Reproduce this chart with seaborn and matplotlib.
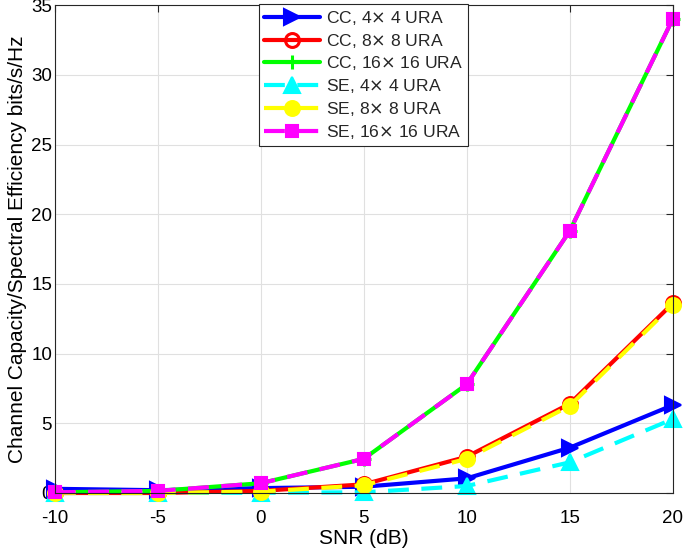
import matplotlib
matplotlib.use("Agg")
import matplotlib.pyplot as plt
import seaborn as sns
import pandas as pd

snr = [-10, -5, 0, 5, 10, 15, 20]
cc_4 = [0.3, 0.2, 0.35, 0.45, 1.05, 3.25, 6.3]
cc_8 = [0.0, 0.0, 0.15, 0.62, 2.6, 6.4, 13.6]
cc_16 = [0.05, 0.15, 0.7, 2.45, 7.8, 18.8, 34.0]
se_4 = [0.0, 0.0, 0.02, 0.05, 0.5, 2.2, 5.3]
se_8 = [0.0, 0.0, 0.1, 0.55, 2.45, 6.25, 13.5]
se_16 = [0.05, 0.15, 0.7, 2.45, 7.8, 18.8, 34.0]
labels = ["CC, 4$\\times$ 4 URA", "CC, 8$\\times$ 8 URA", "CC, 16$\\times$ 16 URA",
          "SE, 4$\\times$ 4 URA", "SE, 8$\\times$ 8 URA", "SE, 16$\\times$ 16 URA"]
xticks = [-10, -5, 0, 5, 10, 15, 20]
yticks = [0, 5, 10, 15, 20, 25, 30, 35]

series = [cc_4, cc_8, cc_16, se_4, se_8, se_16]
colors = ["#0000ff", "#ff0000", "#00ff00", "#00ffff", "#ffff00", "#ff00ff"]
markers = [">", "o", "+", "^", "o", "s"]
mfc = ["#0000ff", "none", "none", "#00ffff", "#ffff00", "#ff00ff"]
dashed = [False, False, False, True, True, True]
msizes = [12, 10, 10, 11, 10, 8]

sns.set_theme(style="whitegrid")
plt.rcParams['font.family'] = ['Liberation Sans', 'DejaVu Sans']
plt.rcParams['mathtext.fontset'] = 'dejavusans'

fig = plt.figure(figsize=(6.85, 5.53), dpi=100)
ax = fig.add_axes([0.080, 0.1085, 0.902, 0.882])

for vals, lab, c, m, f, d, ms in zip(series, labels, colors, markers, mfc, dashed, msizes):
    df = pd.DataFrame({"snr": snr, "val": vals})
    sns.lineplot(data=df, x="snr", y="val", ax=ax, color=c, marker=m, markersize=ms,
                 markerfacecolor=f, markeredgecolor=c, markeredgewidth=2.2 if m in ("o", "+") else 1.5,
                 linewidth=3, label=lab,
                 linestyle=(0, (5, 3)) if d else "-", clip_on=False)

ax.set_xlim(-10, 20)
ax.set_ylim(0, 35)
ax.set_xticks(xticks)
ax.set_yticks(yticks)
ax.set_xticklabels([str(t) for t in xticks])
ax.set_yticklabels([str(t) for t in yticks])
ax.set_facecolor("white")
ax.grid(True, color="#e0e0e0", linewidth=0.8)
for s in ax.spines.values():
    s.set_visible(True)
    s.set_color("#262626")
    s.set_linewidth(0.8)
ax.tick_params(direction="in", length=5, width=0.8, colors="#262626", labelsize=13.5,
               top=True, right=True, labelcolor="black")
ax.tick_params(axis="x", pad=12)
ax.tick_params(axis="y", pad=2)
ax.set_xlabel("SNR (dB)", fontsize=15, color="black", labelpad=2)
ax.set_ylabel("Channel Capacity/Spectral Efficiency bits/s/Hz", fontsize=15, color="black", labelpad=3)

leg = ax.legend(loc="upper center", bbox_to_anchor=(0.5, 1.003), fontsize=12.6, frameon=True,
                fancybox=False, framealpha=1, edgecolor="#262626", handlelength=3.2,
                borderpad=0.3, labelspacing=0.27, handletextpad=0.3, borderaxespad=0.0)
leg.get_frame().set_linewidth(0.8)

fig.savefig("out.png", dpi=100)
